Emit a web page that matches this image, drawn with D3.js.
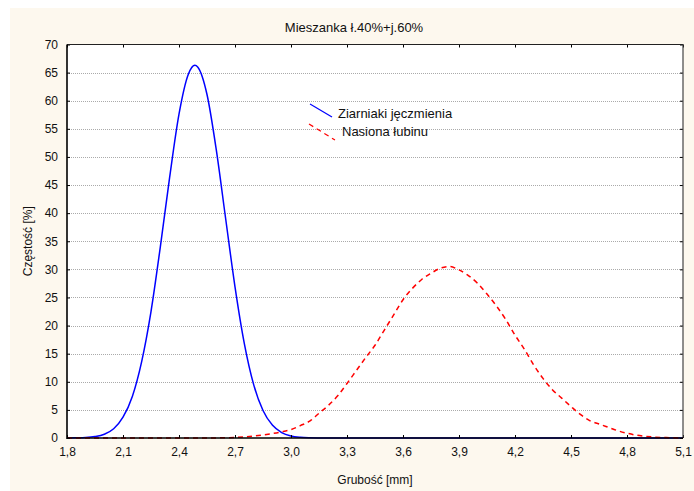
<!DOCTYPE html>
<html><head><meta charset="utf-8">
<script src="https://cdn.jsdelivr.net/npm/d3@7"></script>
<style>body{margin:0;background:#fff;}svg{display:block;}text{font-family:"Liberation Sans",Arial,sans-serif;fill:#111;}</style>
</head><body>
<svg id="c" width="694" height="491"></svg>
<script>
const title = "Mieszanka ł.40%+j.60%";
const xLabel = "Grubość [mm]";
const yLabel = "Częstość [%]";
const seriesNames = ["Ziarniaki jęczmienia", "Nasiona łubinu"];
const xTicks = [1.8, 2.1, 2.4, 2.7, 3.0, 3.3, 3.6, 3.9, 4.2, 4.5, 4.8, 5.1];
const yTicks = [0, 5, 10, 15, 20, 25, 30, 35, 40, 45, 50, 55, 60, 65, 70];

const barleyX = [1.80,1.85,1.90,1.95,2.00,2.05,2.10,2.15,2.20,2.25,2.30,2.35,2.40,2.45,2.485,2.50,2.55,2.60,2.65,2.70,2.75,2.80,2.85,2.90,2.95,3.00,3.05,3.10,3.15,3.20,5.10];
const barleyY = [0.01,0.03,0.08,0.25,0.67,1.65,3.7,7.4,13.6,22.5,34.0,46.4,57.6,64.7,66.3,66.0,61.1,51.2,39.0,26.9,16.8,9.5,4.9,2.3,0.97,0.37,0.13,0.04,0.01,0,0];

const lupinX = [1.80,2.55,2.60,2.65,2.70,2.75,2.80,2.85,2.90,2.95,3.00,3.05,3.10,3.15,3.20,3.25,3.30,3.35,3.40,3.45,3.50,3.55,3.60,3.65,3.70,3.75,3.80,3.85,3.90,3.95,4.00,4.05,4.10,4.15,4.20,4.25,4.30,4.35,4.40,4.45,4.50,4.55,4.60,4.65,4.70,4.75,4.80,4.85,4.90,4.95,5.00,5.05,5.10];
const lupinY = [0,0,0.02,0.05,0.1,0.2,0.35,0.55,0.8,1.1,1.5,2.2,3.0,4.4,5.8,7.5,9.7,12.0,14.3,16.5,19.2,21.9,24.6,26.6,28.2,29.3,30.2,30.5,29.9,28.9,27.5,25.6,23.5,21.1,18.3,15.8,13.0,10.6,8.6,7.1,5.6,4.2,3.1,2.5,1.9,1.3,0.85,0.5,0.3,0.15,0.08,0.03,0.01];

const svg = d3.select("#c");
const L = 67, R = 683, T = 44.5, B = 438;
svg.append("rect").attr("x",10).attr("y",8).attr("width",684).attr("height",483).attr("fill","#fdf8ee");
svg.append("rect").attr("x",L).attr("y",T).attr("width",R-L).attr("height",B-T).attr("fill","#fff");

const x = d3.scaleLinear().domain([1.8,5.1]).range([L,R]);
const y = d3.scaleLinear().domain([0,70]).range([B,T]);

// gridlines
svg.append("g").selectAll("line").data(yTicks.filter(v=>v>0&&v<70)).join("line")
  .attr("x1",L).attr("x2",R).attr("y1",d=>Math.round(y(d))+0.5).attr("y2",d=>Math.round(y(d))+0.5)
  .attr("stroke","#aaa").attr("stroke-width",1).attr("stroke-dasharray","1,1");

// curves
const line = d3.line().x(d=>x(d[0])).y(d=>y(d[1])).curve(d3.curveMonotoneX);
svg.append("path").datum(barleyX.map((v,i)=>[v,barleyY[i]]))
  .attr("d",line).attr("fill","none").attr("stroke","#0000ff").attr("stroke-width",1.5);
svg.append("path").datum(lupinX.map((v,i)=>[v,lupinY[i]]))
  .attr("d",line).attr("fill","none").attr("stroke","#ff0000").attr("stroke-width",1.5).attr("stroke-dasharray","5,4");

// axes
const fmt = d=>d3.format(".1f")(d).replace(".",",");
const gx = svg.append("g").attr("transform",`translate(0,${B})`)
  .call(d3.axisBottom(x).tickValues(xTicks).tickSizeInner(-3).tickSizeOuter(0).tickPadding(9).tickFormat(fmt));
const gxTop = svg.append("g").attr("transform",`translate(0,${T})`)
  .call(d3.axisTop(x).tickValues(xTicks).tickSizeInner(-3).tickSizeOuter(0).tickFormat(""));
const gy = svg.append("g").attr("transform",`translate(${L},0)`)
  .call(d3.axisLeft(y).tickValues(yTicks).tickSizeInner(-3).tickSizeOuter(0).tickPadding(9).tickFormat(d3.format("d")));
const gyR = svg.append("g").attr("transform",`translate(${R},0)`)
  .call(d3.axisRight(y).tickValues(yTicks).tickSizeInner(-3).tickSizeOuter(0).tickFormat(""));
[gx,gxTop,gy,gyR].forEach(g=>{
  g.selectAll(".domain").remove();
  g.selectAll(".tick line").attr("stroke","#000");
  g.selectAll("text").style("font-family","'Liberation Sans',Arial,sans-serif").style("font-size","12px").attr("fill","#111");
});
// frame
svg.append("line").attr("x1",L).attr("x2",R).attr("y1",T).attr("y2",T).attr("stroke","#222").attr("stroke-width",1);
svg.append("line").attr("x1",R).attr("x2",R).attr("y1",T).attr("y2",B).attr("stroke","#444").attr("stroke-width",1.2);
svg.append("line").attr("x1",L).attr("x2",L).attr("y1",T).attr("y2",B+1).attr("stroke","#000").attr("stroke-width",1.6);
svg.append("line").attr("x1",L).attr("x2",R).attr("y1",B).attr("y2",B).attr("stroke","#000").attr("stroke-width",1.6);

// titles
svg.append("text").attr("x",354).attr("y",32).attr("text-anchor","middle").style("font-size","13px").text(title);
svg.append("text").attr("x",(L+R)/2).attr("y",484).attr("text-anchor","middle").style("font-size","12px").text(xLabel);
svg.append("text").attr("transform",`translate(32,${(T+B)/2}) rotate(-90)`).attr("text-anchor","middle").style("font-size","12px").text(yLabel);

// legend
const leg = svg.append("g");
const legColors = ["#0000ff","#ff0000"];
const legDash = [null,"5,4"];
const legPos = [[310,104,332,117,338,118],[309,124,335,140,342,136]];
seriesNames.forEach((n,i)=>{
  const p = legPos[i];
  leg.append("line").attr("x1",p[0]).attr("y1",p[1]).attr("x2",p[2]).attr("y2",p[3])
    .attr("stroke",legColors[i]).attr("stroke-width",1.2).attr("stroke-dasharray",legDash[i]);
  leg.append("text").attr("x",p[4]).attr("y",p[5]).style("font-size","13px").text(n);
});
</script>
</body></html>
